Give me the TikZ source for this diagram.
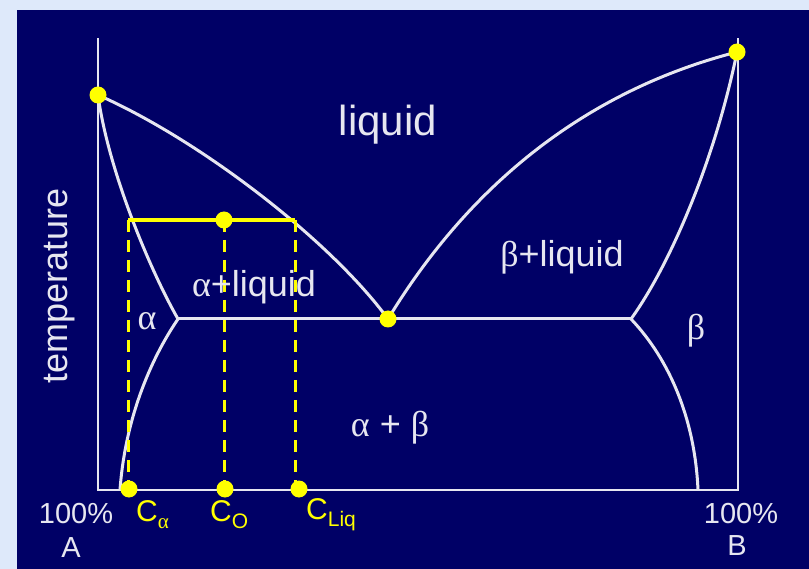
\documentclass[tikz,border=0pt]{standalone}
\usepackage{fontspec}
\setmainfont{Liberation Sans}
\newfontfamily\grk{Liberation Serif}
\definecolor{navy}{RGB}{0,0,102}
\definecolor{pale}{RGB}{222,233,250}
\definecolor{ln}{RGB}{230,230,240}
\definecolor{yel}{RGB}{255,255,0}
\newcommand{\fs}[1]{\fontsize{#1}{#1}\selectfont}
\newcommand{\sub}[1]{\raisebox{-7pt}{\fs{21}#1}}
\begin{document}
\begin{tikzpicture}[x=1pt,y=-1pt,
  phase/.style={draw=ln,line width=3pt},
  axisline/.style={draw=ln,line width=2.5pt},
  tie/.style={draw=yel,line width=3.2pt},
  drop/.style={draw=yel,line width=3pt,dash pattern=on 12pt off 8pt},
  dot/.style={circle,fill=yel,inner sep=0pt,minimum size=17pt},
  lbl/.style={text=ln,inner sep=0pt,font=\fs{36}},
  clbl/.style={text=yel,inner sep=0pt,font=\fs{30},anchor=west},
  axlbl/.style={text=ln,inner sep=0pt,font=\fs{29}}]
\useasboundingbox (0,0) rectangle (809,569);
\fill[pale] (0,0) rectangle (809,569);
\fill[navy] (17,10) rectangle (809,569);
% key coordinates
\coordinate (tl) at (98,38);
\coordinate (bl) at (98,490);
\coordinate (br) at (738,490);
\coordinate (tr) at (738,38);
\coordinate (A) at (98,95);
\coordinate (B) at (737,52);
\coordinate (E) at (388,319);
\coordinate (La) at (178,319);
\coordinate (Rb) at (631,319);
\coordinate (Sa) at (120,490);
\coordinate (Sb) at (698,490);
\coordinate (T1) at (128,220);
\coordinate (T0) at (224,220);
\coordinate (T2) at (295,220);
\coordinate (D1) at (128,490);
\coordinate (D0) at (224,490);
\coordinate (D2) at (295,490);
% axes
\draw[axisline] (tl) -- (bl) -- (br) -- (tr);
% phase boundaries
\draw[phase] (A) .. controls (200,140) and (330,240) .. (E);
\draw[phase] (E) .. controls (445,225) and (550,100) .. (B);
\draw[phase] (A) .. controls (108,170) and (150,270) .. (La);
\draw[phase] (La) .. controls (150,360) and (125,420) .. (Sa);
\draw[phase] (B) .. controls (715,160) and (670,265) .. (Rb);
\draw[phase] (Rb) .. controls (670,360) and (695,420) .. (Sb);
\draw[phase] (La) -- (Rb);
% tie line and drops
\draw[tie] (T1) -- (T2);
\draw[drop] (T1) -- (D1);
\draw[drop] (T0) -- (D0);
\draw[drop] (T2) -- (D2);
% dots
\node[dot] (dA) at (A) {};
\node[dot] (dB) at (B) {};
\node[dot] (dE) at (E) {};
\node[dot] (dT) at (T0) {};
\node[dot] (d1) at (129,489) {};
\node[dot] (d0) at (225,489) {};
\node[dot] (d2) at (299,489) {};
% region labels
\node[lbl,font=\fs{42}] (tliq) at (388,125) {liquid};
\node[lbl] (tbl) at (562,257) {{\grk β}+liquid};
\node[lbl] (tal) at (254,287) {{\grk α}+liquid};
\node[lbl] (ta) at (147,321) {\grk α};
\node[lbl] (tb) at (696,331) {\grk β};
\node[lbl] (tab) at (390,428) {{\grk α} + {\grk β}};
\node[lbl,rotate=90] (ttemp) at (60,286) {temperature};
% axis labels
\node[axlbl] (pA) at (76,514) {100\%};
\node[axlbl] (lA) at (71,548) {A};
\node[axlbl] (pB) at (741,514) {100\%};
\node[axlbl] (lB) at (737,546) {B};
% composition labels
\node[clbl] (ca) at (136,515) {C\sub{\grk α}};
\node[clbl] (co) at (210,515) {C\sub{O}};
\node[clbl] (cl) at (306,515) {C\sub{Liq}};
\end{tikzpicture}
\end{document}
